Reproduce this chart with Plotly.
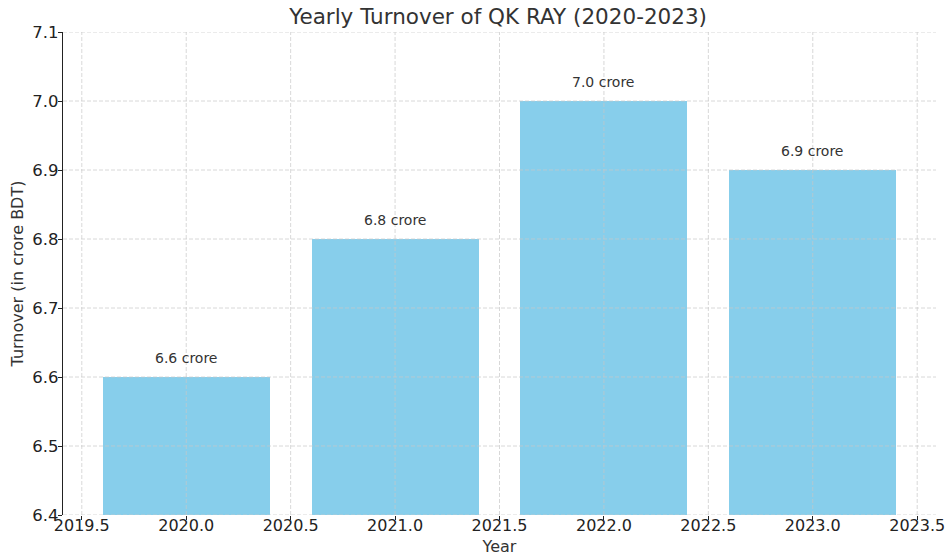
import plotly.graph_objects as go

years = [2020, 2021, 2022, 2023]
turnover = [6.6, 6.8, 7.0, 6.9]
labels = [f"{v:.1f} crore" for v in turnover]
x_ticks = [2019.5, 2020.0, 2020.5, 2021.0, 2021.5, 2022.0, 2022.5, 2023.0, 2023.5]
y_ticks = [6.4, 6.5, 6.6, 6.7, 6.8, 6.9, 7.0, 7.1]

FONT = "DejaVu Sans"
fig = go.Figure()
fig.add_trace(go.Bar(x=years, y=turnover, width=0.8, marker=dict(color="#87CEEB", line=dict(width=0)),
                     showlegend=False, hoverinfo="x+y"))

for x, y, t in zip(years, turnover, labels):
    fig.add_annotation(x=x, y=y, text=t, showarrow=False, yshift=19,
                       font=dict(family=FONT, size=14, color="#333333"))

grid_style = dict(color="rgba(200,200,200,0.7)", width=1, dash="4px,2px")
for xv in x_ticks:
    fig.add_shape(type="line", xref="x", yref="paper", x0=xv, x1=xv, y0=0, y1=1,
                  line=grid_style, layer="above")
for yv in y_ticks:
    fig.add_shape(type="line", xref="paper", yref="y", x0=0, x1=1, y0=yv, y1=yv,
                  line=grid_style, layer="above")

fig.update_layout(
    width=946, height=557,
    margin=dict(l=63, r=10, t=32, b=42, autoexpand=False),
    paper_bgcolor="white", plot_bgcolor="white",
    title=dict(text="Yearly Turnover of QK RAY (2020-2023)", x=0.5265, xanchor="center",
               yref="container", y=1 - 16 / 557, yanchor="middle",
               font=dict(family=FONT, size=21.5, color="#333333")),
    font=dict(family=FONT, color="#222222"),
    bargap=0,
)
fig.update_xaxes(range=[2019.41, 2023.59], tickvals=x_ticks, ticktext=[f"{v:.1f}" for v in x_ticks],
                 showgrid=False, zeroline=False, showline=False, automargin=False,
                 ticks="outside", ticklen=4, tickcolor="#222222", tickwidth=1,
                 ticklabelstandoff=-8,
                 tickfont=dict(family=FONT, size=16, color="#222222"),
                 title=dict(text="Year", font=dict(family=FONT, size=16, color="#333333"), standoff=6))
fig.update_yaxes(range=[6.4, 7.1], tickvals=y_ticks, ticktext=[f"{v:.1f}" for v in y_ticks],
                 showgrid=False, zeroline=False, showline=True, linecolor="#222222", linewidth=1.2,
                 automargin=False,
                 ticks="outside", ticklen=4, tickcolor="#222222", tickwidth=1,
                 ticklabelstandoff=-4,
                 tickfont=dict(family=FONT, size=16.5, color="#222222"),
                 title=dict(text="Turnover (in crore BDT)", font=dict(family=FONT, size=16, color="#333333"), standoff=4))

fig.write_html("out.html", config={"displayModeBar": False},
               post_script="document.body.style.margin='0px';")
